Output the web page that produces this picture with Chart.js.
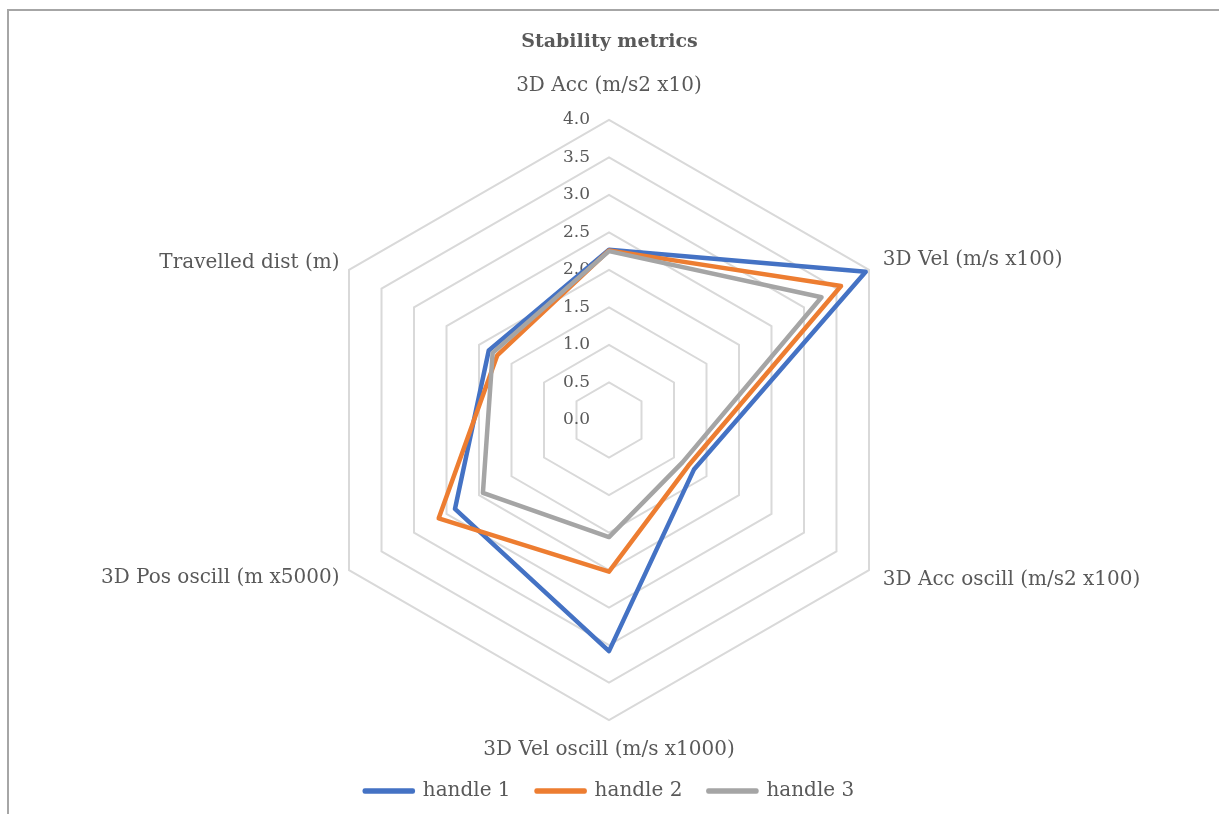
<!DOCTYPE html>
<html>
<head>
<meta charset="utf-8">
<title>Stability metrics</title>
<script src="https://cdn.jsdelivr.net/npm/chart.js@4.4.1/dist/chart.umd.min.js"></script>
<style>
  body { margin: 0; background: #fff; }
  #box { position: relative; width: 1219px; height: 814px; overflow: hidden; }
  #frame { position: absolute; left: 7px; top: 9px; right: -10px; bottom: -10px; border-left: 2px solid #a6a6a6; border-top: 2px solid #a6a6a6; }
  canvas { position: absolute; left: 0; top: 0; }
</style>
</head>
<body>
<div id="box">
  <div id="frame"></div>
  <canvas id="myChart" width="1219" height="814"></canvas>
</div>
<script>
// axes du radar
const metrics = [
  "3D Acc (m/s2 x10)",
  "3D Vel (m/s x100)",
  "3D Acc oscill (m/s2 x100)",
  "3D Vel oscill (m/s x1000)",
  "3D Pos oscill (m x5000)",
  "Travelled dist (m)"
];

// valeurs
const handle1 = [2.27, 3.95, 1.31, 3.08, 2.37, 1.85];
const handle2 = [2.26, 3.57, 1.22, 2.02, 2.62, 1.72];
const handle3 = [2.25, 3.27, 1.13, 1.56, 1.94, 1.79];

// graduations
const tickValues = [0, 0.5, 1, 1.5, 2, 2.5, 3, 3.5, 4];
const tickLabels = ["0.0", "0.5", "1.0", "1.5", "2.0", "2.5", "3.0", "3.5", "4.0"];

const textColor = "#595959";
const serif = "'DejaVu Serif', serif";
const labelPad = [32, 16, 16, 28, 11, 11];

// les graduations sont a gauche de l'axe vertical, alignees a droite
const leftTicks = {
  id: "leftTicks",
  beforeDatasetsDraw(chart) {
    const s = chart.scales.r;
    const c = chart.ctx;
    c.save();
    c.font = "17px " + serif;
    c.fillStyle = textColor;
    c.textAlign = "right";
    c.textBaseline = "middle";
    for (let i = 0; i < tickValues.length; i++) {
      const d = s.getDistanceFromCenterForValue(tickValues[i]);
      c.fillText(tickLabels[i], s.xCenter - 19, s.yCenter - d);
    }
    c.restore();
  }
};

function serie(label, data, color, order) {
  return {
    label: label,
    data: data,
    borderColor: color,
    backgroundColor: color,
    borderWidth: 4.5,
    borderJoinStyle: "round",
    borderCapStyle: "round",
    pointRadius: 0,
    pointHoverRadius: 0,
    fill: false,
    order: order
  };
}

const ctx = document.getElementById("myChart");
new Chart(ctx, {
  type: "radar",
  data: {
    labels: metrics,
    datasets: [
      serie("handle 1", handle1, "#4472C4", 3),
      serie("handle 2", handle2, "#ED7D31", 2),
      serie("handle 3", handle3, "#A5A5A5", 1)
    ]
  },
  options: {
    responsive: false,
    animation: false,
    devicePixelRatio: 1,
    layout: { padding: { top: 0, bottom: 3, left: 0, right: 0 } },
    plugins: {
      title: {
        display: true,
        text: "Stability metrics",
        color: textColor,
        font: { family: serif, size: 19, weight: "bold" },
        padding: { top: 31, bottom: 28 }
      },
      legend: {
        position: "bottom",
        labels: {
          color: textColor,
          font: { family: serif, size: 20 },
          boxWidth: 48,
          boxHeight: 1,
          padding: 26,
          sort: function (a, b) { return a.datasetIndex - b.datasetIndex; }
        }
      },
      tooltip: { enabled: false }
    },
    scales: {
      r: {
        min: 0,
        max: 4,
        ticks: { display: false, stepSize: 0.5 },
        grid: { color: "#d9d9d9", lineWidth: 2 },
        angleLines: { display: false },
        pointLabels: {
          color: textColor,
          font: { family: serif, size: 20, lineHeight: 0.2 },
          padding: function (c) { return labelPad[c.index]; }
        }
      }
    }
  },
  plugins: [leftTicks]
});
</script>
</body>
</html>
